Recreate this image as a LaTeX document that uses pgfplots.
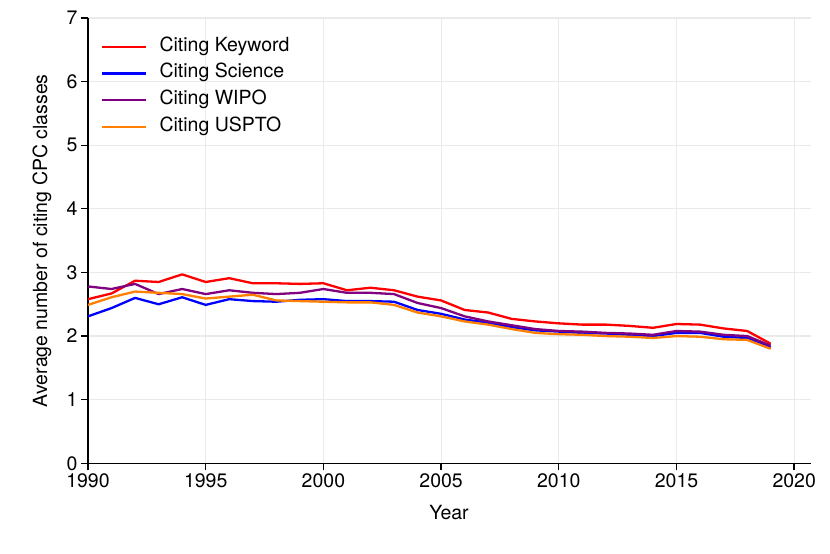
\documentclass[border=0pt]{standalone}
\usepackage{fontspec}
\setmainfont{TeX Gyre Heros}
\usepackage{pgfplots}
\pgfplotsset{compat=1.18}
\usepackage{pgfplotstable}
\definecolor{cred}{RGB}{255,0,0}
\definecolor{cblue}{RGB}{0,0,255}
\definecolor{cpurple}{RGB}{128,0,128}
\definecolor{corange}{RGB}{255,128,0}
\definecolor{gridc}{RGB}{234,234,234}
\newcommand\fs{\fontsize{19.5bp}{23bp}\selectfont}
\pgfplotstableread{
year keyword science wipo uspto
1990 2.58 2.31 2.78 2.49
1991 2.67 2.44 2.74 2.61
1992 2.87 2.60 2.82 2.70
1993 2.85 2.50 2.66 2.68
1994 2.97 2.61 2.74 2.66
1995 2.85 2.49 2.66 2.59
1996 2.91 2.58 2.72 2.62
1997 2.83 2.55 2.68 2.65
1998 2.83 2.54 2.66 2.56
1999 2.82 2.57 2.68 2.55
2000 2.83 2.58 2.74 2.54
2001 2.72 2.55 2.68 2.53
2002 2.76 2.55 2.68 2.53
2003 2.72 2.54 2.66 2.49
2004 2.62 2.41 2.52 2.37
2005 2.56 2.35 2.44 2.31
2006 2.41 2.26 2.31 2.23
2007 2.37 2.21 2.23 2.18
2008 2.27 2.14 2.17 2.11
2009 2.23 2.09 2.11 2.05
2010 2.20 2.07 2.08 2.03
2011 2.18 2.05 2.07 2.02
2012 2.18 2.04 2.05 2.00
2013 2.16 2.02 2.04 1.99
2014 2.13 2.00 2.02 1.97
2015 2.19 2.05 2.08 2.00
2016 2.18 2.05 2.07 1.99
2017 2.12 1.99 2.02 1.95
2018 2.08 1.97 2.00 1.94
2019 1.88 1.82 1.85 1.80
}\datatable
\begin{document}
\begin{tikzpicture}
\begin{axis}[
  scale only axis,
  width=722.7bp, height=445.3bp,
  xmin=1990, xmax=2020.7,
  ymin=0, ymax=7,
  axis lines=left,
  axis line style={black, line width=1.3bp, -},
  xtick={1990,1995,...,2020},
  ytick={0,1,...,7},
  tick align=outside,
  major tick length=7bp,
  tick style={black, line width=1.3bp},
  grid=major,
  major grid style={gridc, line width=1.2bp},
  font=\fs,
  ticklabel style={font=\fs},
  /pgf/number format/assume math mode=true,
  xticklabel style={/pgf/number format/1000 sep={}},
  xlabel={Year},
  ylabel={Average number of citing CPC classes},
  xlabel style={at={(axis description cs:0.4995,0)}, anchor=base, yshift=-56bp},
  ylabel style={at={(axis description cs:-0.0567,0.5)}, anchor=base},
  legend style={draw=none, fill=none, at={(axis description cs:0.0180,0.9573)}, anchor=north west, inner sep=0bp,
    nodes={inner sep=0bp, text height=14bp, text depth=5bp, anchor=west}, row sep=7.7bp, column sep=12bp, font=\fs},
  legend cell align=left,
  legend image code/.code={\draw[#1] (0bp,0bp) -- (44bp,0bp);},
  every axis plot/.append style={line width=2.3bp, line join=round},
]
\addplot[cred] table[x=year,y=keyword] {\datatable};
\addlegendentry{Citing Keyword}
\addplot[cblue] table[x=year,y=science] {\datatable};
\addlegendentry{Citing Science}
\addplot[cpurple] table[x=year,y=wipo] {\datatable};
\addlegendentry{Citing WIPO}
\addplot[corange] table[x=year,y=uspto] {\datatable};
\addlegendentry{Citing USPTO}
\end{axis}
\foreach \i in {0,1,...,6} {
  \draw[black, line width=1.3bp] ({\i*117.65bp},0bp) -- ++(0bp,-7bp);
}
\foreach \j in {0,1,...,7} {
  \draw[black, line width=1.3bp] (0bp,{\j*63.614bp}) -- ++(-7bp,0bp);
}
\path[use as bounding box] (-88bp,-90.7bp) rectangle (742bp,463.3bp);
\end{tikzpicture}
\end{document}
